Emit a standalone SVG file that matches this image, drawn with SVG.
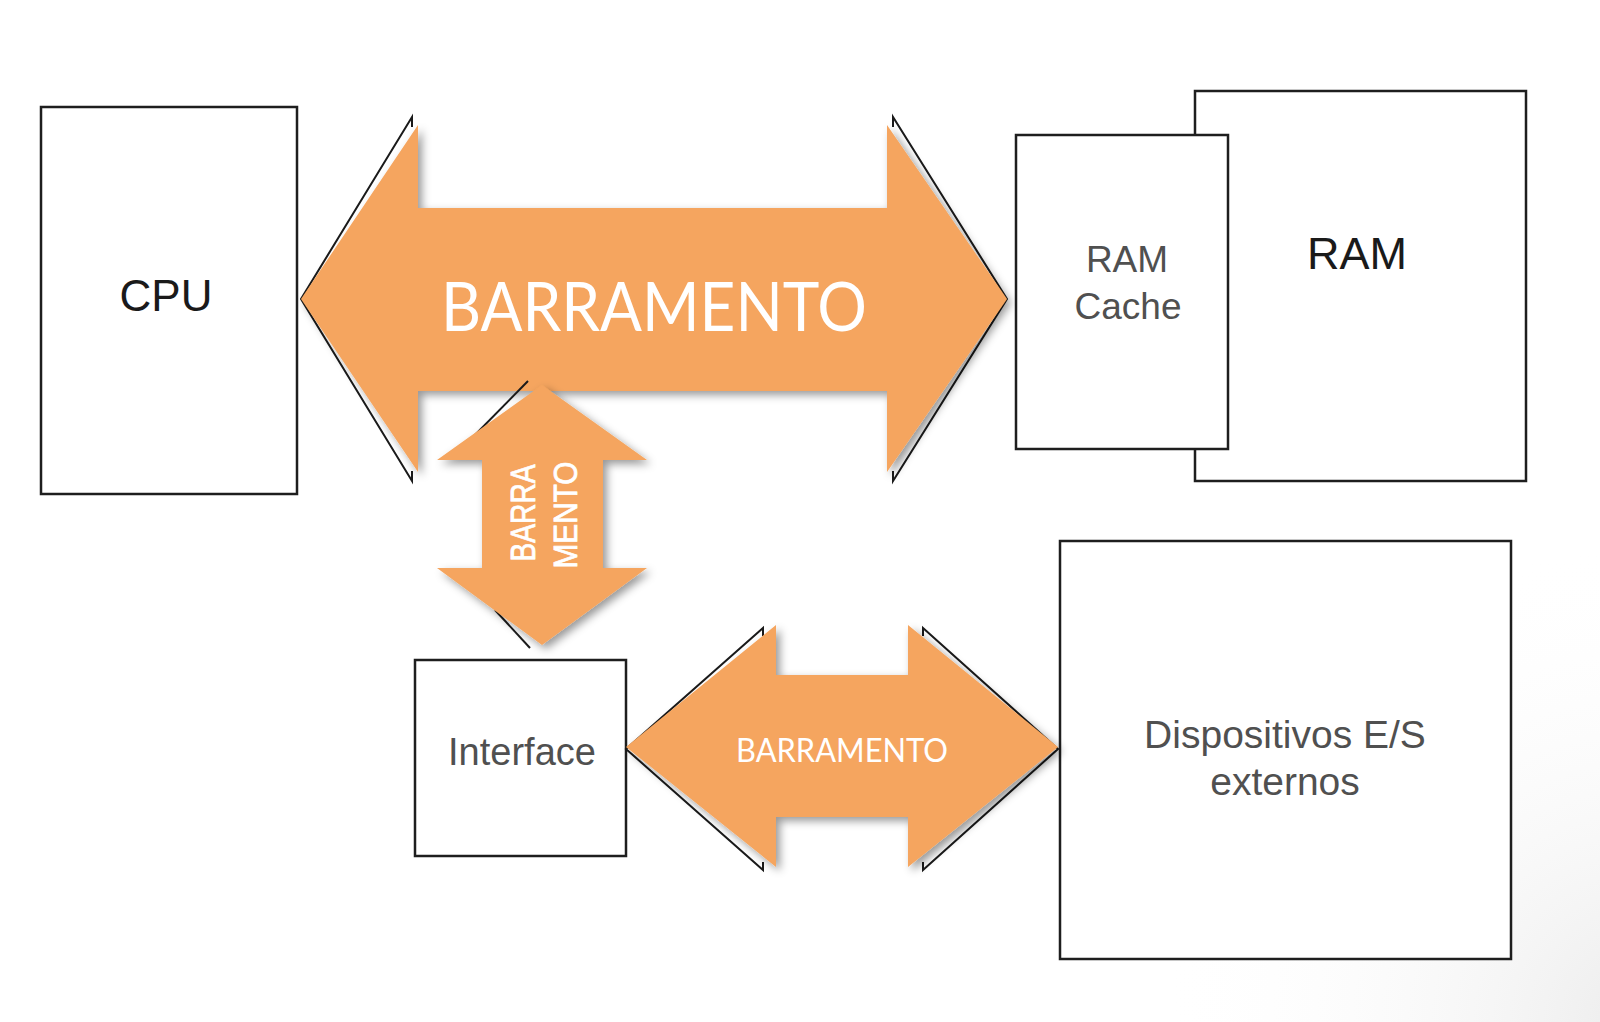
<svg xmlns="http://www.w3.org/2000/svg" width="1600" height="1022" viewBox="0 0 1600 1022">
<defs>
<style>
.box{fill:#fff;stroke:#1e1e1e;stroke-width:2.5}
.t{font-family:"Liberation Sans",Arial,sans-serif;text-anchor:middle}
.dark{fill:#1a1a1a}
.gray{fill:#505050}
.bus{fill:#F5A55E;filter:url(#sh)}
.edge{fill:none;stroke:#1a1a1a;stroke-width:2}
.bl{font-family:Lato,"Open Sans",sans-serif;fill:#fff;text-anchor:middle}
.vl{font-family:"Liberation Sans",Arial,sans-serif;fill:#fff;stroke:#fff;stroke-width:0.8;text-anchor:middle}
</style>
<filter id="sh" x="-10%" y="-10%" width="125%" height="125%">
<feDropShadow dx="4" dy="4" stdDeviation="4" flood-color="#000" flood-opacity="0.4"/>
</filter>
<radialGradient id="fade" gradientUnits="userSpaceOnUse" cx="1640" cy="1022" r="480">
<stop offset="0" stop-color="#ececec" stop-opacity="1"/>
<stop offset="1" stop-color="#ffffff" stop-opacity="0"/>
</radialGradient>
</defs>
<rect width="1600" height="1022" fill="#fff"/>
<rect x="1100" y="500" width="500" height="522" fill="url(#fade)"/>

<g id="cpu">
<rect class="box" x="41" y="107" width="256" height="387"/>
<text class="t dark" x="166" y="311" font-size="44">CPU</text>
</g>
<g id="ram">
<rect class="box" x="1195" y="91" width="331" height="390"/>
<text class="t dark" x="1357" y="269" font-size="45">RAM</text>
</g>
<g id="ram-cache">
<rect class="box" x="1016" y="135" width="212" height="314"/>
<text class="t gray" x="1127" y="272" font-size="37">RAM</text>
<text class="t gray" x="1128" y="319" font-size="37">Cache</text>
</g>
<g id="interface">
<rect class="box" x="415" y="660" width="211" height="196"/>
<text class="t gray" x="522" y="765" font-size="38">Interface</text>
</g>
<g id="dispositivos">
<rect class="box" x="1060" y="541" width="451" height="418"/>
<text class="t gray" x="1285" y="748" font-size="39">Dispositivos E/S</text>
<text class="t gray" x="1285" y="795" font-size="39">externos</text>
</g>

<g id="connectors">
<g id="bus-main">
<polyline class="edge" points="412,127 412,117 301,299 412,481 412,471"/>
<polyline class="edge" points="893,127 893,117 1007,299 893,481 893,471"/>
<polygon class="bus" points="301,299 418,125 418,208 887,208 887,125 1007,299 887,472 887,391 418,391 418,472"/>
<text class="bl" x="654" y="331" font-size="68" textLength="426" lengthAdjust="spacingAndGlyphs">BARRAMENTO</text>
</g>
<g id="bus-vertical">
<polyline class="edge" points="528,381 470,440"/>
<polyline class="edge" points="495,610 530,648"/>
<polygon class="bus" points="542,385 647,460 603,460 603,568 647,568 542,645 437,568 482,568 482,460 437,460"/>
<text class="vl" transform="translate(535,513) rotate(-90)" font-size="35" textLength="97" lengthAdjust="spacingAndGlyphs">BARRA</text>
<text class="vl" transform="translate(577,515) rotate(-90)" font-size="34" textLength="107" lengthAdjust="spacingAndGlyphs">MENTO</text>
</g>
<g id="bus-io">
<polyline class="edge" points="763,636 763,628 626,749 763,870 763,862"/>
<polyline class="edge" points="923,636 923,628 1058,749 923,870 923,862"/>
<polygon class="bus" points="626,747 776,625 776,675 908,675 908,625 1058,747 908,867 908,817 776,817 776,867"/>
<text class="bl" x="842" y="762" font-size="33" textLength="212" lengthAdjust="spacingAndGlyphs">BARRAMENTO</text>
</g>
</g>
</svg>
